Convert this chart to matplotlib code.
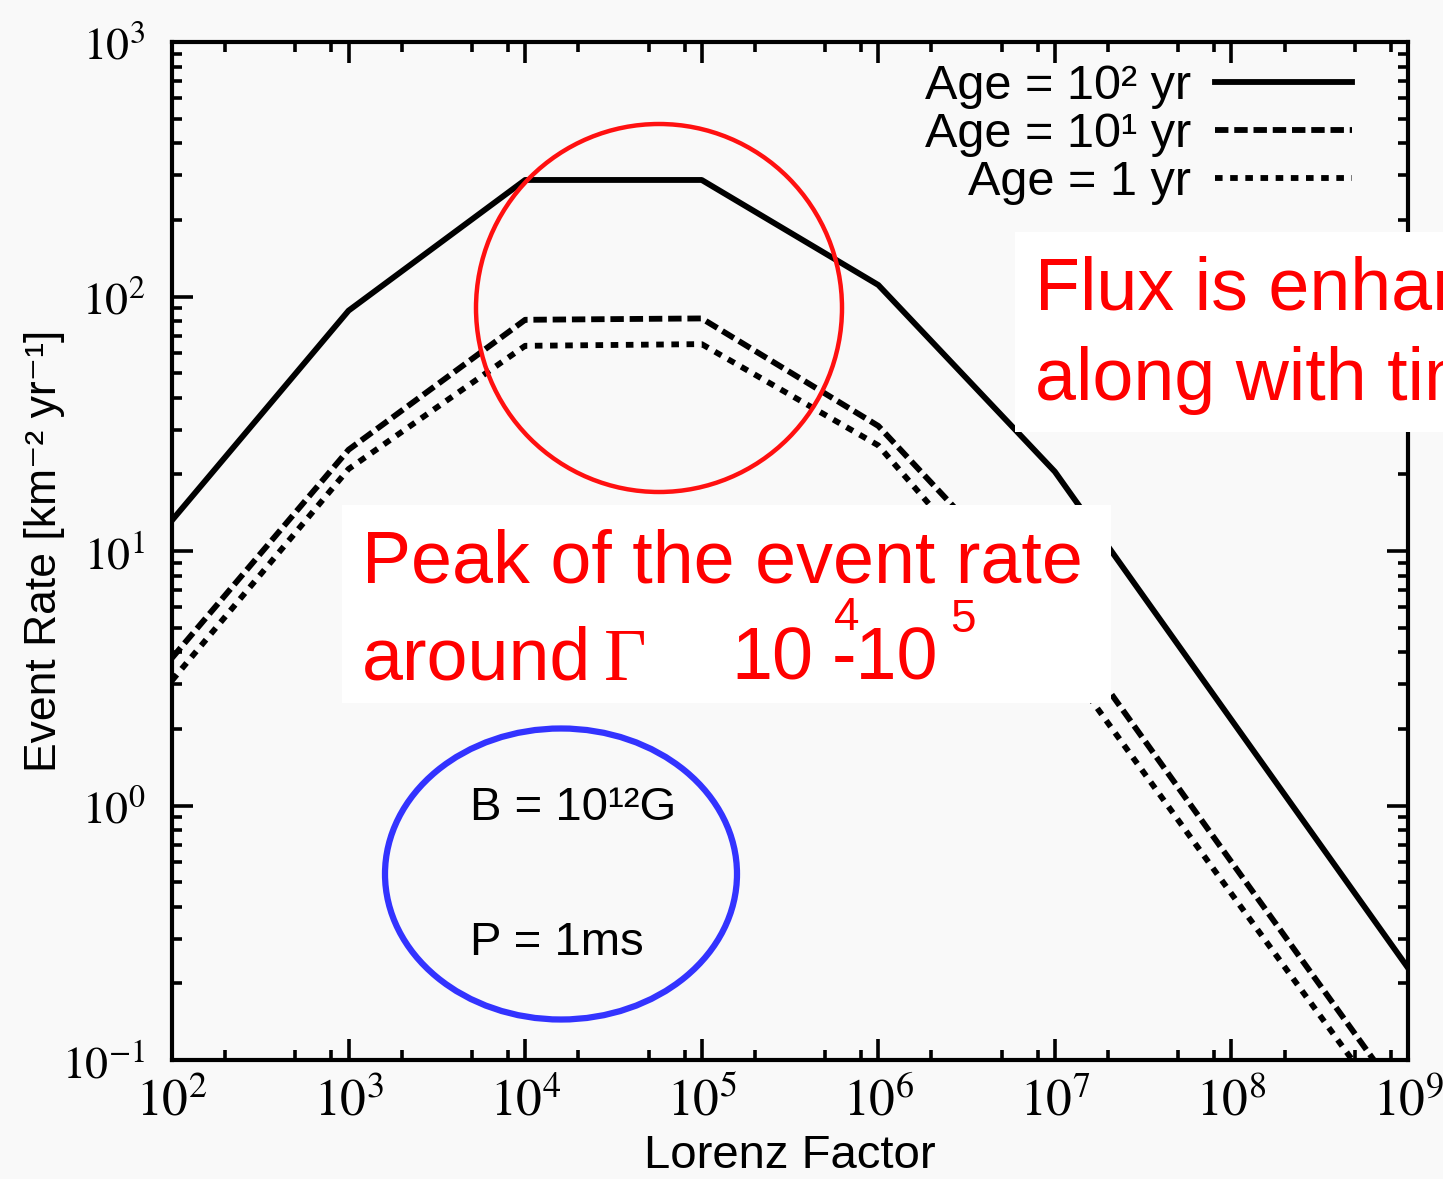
import math
import matplotlib
matplotlib.use("Agg")
import matplotlib.pyplot as plt
from matplotlib.patches import Ellipse, Rectangle
from matplotlib.ticker import LogLocator, FuncFormatter, NullFormatter

plt.rcParams['mathtext.fontset'] = 'stix'

# values
lorentz = [1e2, 1e3, 1e4, 1e5, 1e6, 1e7, 1e8, 1e9]
rate_100yr = [13.2, 88, 287, 287, 111, 20.5, 2.17, 0.23]
rate_10yr = [3.8, 25, 81, 82, 31, 5.6, 0.6, 0.065]
rate_1yr = [3.1, 21, 64, 65, 26, 4.1, 0.45, 0.05]
labels = ['Age = 10² yr', 'Age = 10¹ yr', 'Age = 1 yr']

W, H = 1443, 1179
bg = '#f9f9f9'
sans = ['Liberation Sans', 'DejaVu Sans']


def px(x, y):
    return x / W, 1 - y / H


fig = plt.figure(figsize=(W / 100, H / 100), dpi=100, facecolor=bg)
ax = fig.add_axes([172 / W, 1 - 1060 / H, 1236 / W, 1018 / H], facecolor=bg)

ax.plot(lorentz, rate_100yr, color='black', lw=4.2, ls='-', label=labels[0])
ax.plot(lorentz, rate_10yr, color='black', lw=4.2, ls=(0, (2.3, 1.0)), label=labels[1])
ax.plot(lorentz, rate_1yr, color='black', lw=4.2, ls=(0, (1.3, 1.3)), label=labels[2])

ax.set_xscale('log')
ax.set_yscale('log')
ax.set_xlim(1e2, 1e9)
ax.set_ylim(1e-1, 1e3)

ax.xaxis.set_major_locator(LogLocator(base=10, numticks=20))
ax.xaxis.set_minor_locator(LogLocator(base=10, subs=[2, 5, 8], numticks=20))
ax.yaxis.set_major_locator(LogLocator(base=10, numticks=20))
ax.yaxis.set_minor_locator(LogLocator(base=10, subs=range(2, 10), numticks=20))
fmt = FuncFormatter(lambda v, p: r'$10^{%d}$' % round(math.log10(v)))
ax.xaxis.set_major_formatter(fmt)
ax.yaxis.set_major_formatter(fmt)
ax.xaxis.set_minor_formatter(NullFormatter())
ax.yaxis.set_minor_formatter(NullFormatter())

ax.tick_params(which='both', direction='in', top=True, right=True, width=2.6, color='black')
ax.tick_params(which='major', length=15)
ax.tick_params(which='minor', length=7.5)
ax.tick_params(axis='x', which='major', labelsize=37, pad=12)
ax.tick_params(axis='y', which='major', labelsize=33, pad=19)
for s in ax.spines.values():
    s.set_linewidth(3)

ax.set_xlabel('Lorenz Factor', fontsize=34, family=sans, labelpad=5)
ax.set_ylabel('Event Rate [km⁻² yr⁻¹]', fontsize=32, family=sans, labelpad=-2)

leg = ax.legend(loc='upper right', bbox_to_anchor=(0.972, 1.0), frameon=False,
                markerfirst=False, handlelength=2.8, handletextpad=0.5,
                labelspacing=0.06, borderaxespad=0.05,
                prop={'family': sans, 'size': 35})

# overlay annotations
fig.add_artist(Ellipse(px(659, 308), 366 / W, 368 / H, transform=fig.transFigure,
                       fill=False, edgecolor='#ff1010', lw=3.2))
fig.add_artist(Ellipse(px(561, 874), 352 / W, 291 / H, transform=fig.transFigure,
                       fill=False, edgecolor='#3333ff', lw=4.5))

x0, y0 = px(342, 703)
fig.add_artist(Rectangle((x0, y0), 769 / W, 198 / H, transform=fig.transFigure,
                         facecolor='white', edgecolor='none'))
x0, y0 = px(1015, 432)
fig.add_artist(Rectangle((x0, y0), 440 / W, 200 / H, transform=fig.transFigure,
                         facecolor='white', edgecolor='none'))

red = '#ff0000'
fig.text(*px(1035, 310), 'Flux is enhanced', color=red, fontsize=53, family=sans, va='baseline')
fig.text(*px(1035, 400), 'along with time', color=red, fontsize=53, family=sans, va='baseline')
fig.text(*px(362, 582), 'Peak of the event rate', color=red, fontsize=53, family=sans, va='baseline')
fig.text(*px(362, 680), 'around', color=red, fontsize=53, family=sans, va='baseline')
fig.text(*px(604, 680), 'Γ', color=red, fontsize=53, family=['Liberation Serif', 'DejaVu Serif'], va='baseline')
fig.text(*px(731, 680), '10', color=red, fontsize=53, family=sans, va='baseline')
fig.text(*px(832, 680), '-10', color=red, fontsize=53, family=sans, va='baseline')
fig.text(*px(834, 630), '4', color=red, fontsize=33, family=sans, va='baseline')
fig.text(*px(950, 632), '5', color=red, fontsize=33, family=sans, va='baseline')

fig.text(*px(470, 820), 'B = 10¹²G', color='black', fontsize=34, family=sans, va='baseline')
fig.text(*px(470, 955), 'P = 1ms', color='black', fontsize=34, family=sans, va='baseline')

fig.savefig('out.png', dpi=100, facecolor=bg)
